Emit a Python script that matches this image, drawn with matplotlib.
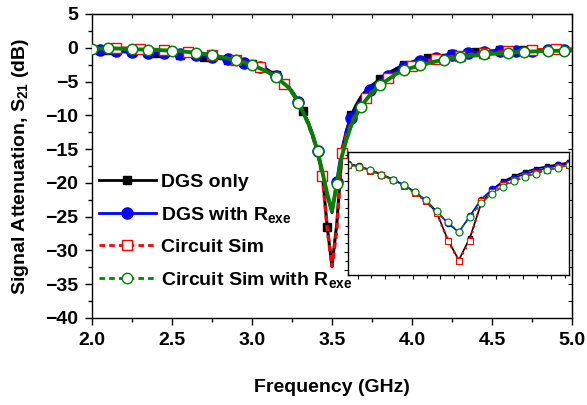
import numpy as np
import matplotlib
matplotlib.use('Agg')
import matplotlib.pyplot as plt
from matplotlib.lines import Line2D
from matplotlib.ticker import MultipleLocator

plt.rcParams['font.family'] = 'Liberation Sans'
plt.rcParams['font.weight'] = 'bold'
plt.rcParams['mathtext.fontset'] = 'custom'
plt.rcParams['mathtext.rm'] = 'Liberation Sans:bold'
plt.rcParams['mathtext.bf'] = 'Liberation Sans:bold'
plt.rcParams['mathtext.default'] = 'rm'

# frequency sweep (GHz), finer around the notch
freq = [2.00, 2.05, 2.10, 2.15, 2.20, 2.25, 2.30, 2.35, 2.40, 2.45,
        2.50, 2.55, 2.60, 2.65, 2.70, 2.75, 2.80, 2.85, 2.90, 2.95,
        3.00, 3.05, 3.10, 3.15, 3.20,
        3.23, 3.26, 3.29, 3.32, 3.35, 3.38, 3.41, 3.44, 3.47, 3.50,
        3.53, 3.56, 3.59, 3.62, 3.65, 3.68, 3.71, 3.74, 3.77,
        3.80, 3.85, 3.90, 3.95, 4.00, 4.05, 4.10, 4.15, 4.20, 4.25,
        4.30, 4.35, 4.40, 4.45, 4.50, 4.55, 4.60, 4.65, 4.70, 4.75,
        4.80, 4.85, 4.90, 4.95, 5.00]

# S21 (dB)
dgs_only = [-0.30, -0.35, -0.40, -0.45, -0.55, -0.60, -0.66, -0.72, -0.78, -0.85,
            -0.95, -1.10, -1.20, -1.28, -1.35, -1.45, -1.60, -1.75, -1.95, -2.15,
            -2.35, -2.60, -3.30, -4.10, -5.00,
            -5.8, -6.8, -8.0, -9.4, -11.0, -13.0, -15.5, -18.8, -26.5, -32.3,
            -26.0, -16.5, -12.3, -10.0, -8.5, -7.3, -6.4, -5.7, -5.2,
            -4.6, -3.8, -3.1, -2.55, -2.1, -1.75, -1.45, -1.25, -1.1, -0.98,
            -0.85, -0.7, -0.6, -0.52, -0.45, -0.4, -0.36, -0.32, -0.3, -0.3,
            -0.3, -0.3, -0.3, -0.3, -0.3]

dgs_rexe = [-0.30, -0.40, -0.50, -0.55, -0.60, -0.65, -0.68, -0.72, -0.77, -0.83,
            -0.90, -0.97, -1.00, -1.06, -1.20, -1.35, -1.50, -1.70, -1.95, -2.20,
            -2.50, -2.90, -3.50, -4.20, -5.10,
            -5.8, -6.8, -8.1, -9.5, -11.0, -12.9, -15.3, -18.5, -21.8, -24.4,
            -19.8, -15.2, -12.3, -10.4, -9.0, -7.9, -7.0, -6.2, -5.5,
            -4.9, -4.2, -3.5, -2.9, -2.4, -2.0, -1.7, -1.45, -1.2, -1.05,
            -0.92, -0.8, -0.7, -0.63, -0.57, -0.52, -0.48, -0.45, -0.43, -0.42,
            -0.41, -0.4, -0.4, -0.4, -0.4]

circuit_sim = [-0.10, -0.05, -0.05, -0.05, -0.06, -0.08, -0.12, -0.18, -0.26, -0.35,
               -0.43, -0.52, -0.62, -0.75, -0.92, -1.12, -1.33, -1.55, -1.80, -2.10,
               -2.45, -2.90, -3.50, -4.30, -5.30,
               -6.0, -7.0, -8.2, -9.6, -11.2, -13.2, -15.6, -19.0, -26.8, -32.4,
               -27.0, -15.6, -12.9, -11.1, -9.7, -8.5, -7.5, -6.7, -6.0,
               -5.4, -4.5, -3.8, -3.2, -2.7, -2.3, -1.95, -1.7, -1.48, -1.3,
               -1.15, -1.02, -0.9, -0.8, -0.7, -0.62, -0.55, -0.47, -0.40, -0.35,
               -0.30, -0.26, -0.22, -0.20, -0.18]

sim_rexe = [-0.15, -0.10, -0.06, -0.10, -0.15, -0.20, -0.25, -0.28, -0.32, -0.38,
            -0.44, -0.52, -0.62, -0.74, -0.90, -1.10, -1.33, -1.58, -1.87, -2.20,
            -2.60, -3.05, -3.60, -4.35, -5.30,
            -5.9, -6.9, -8.2, -9.6, -11.1, -13.0, -15.3, -18.4, -21.6, -24.2,
            -20.2, -16.2, -13.6, -11.5, -10.0, -8.8, -7.8, -6.9, -6.2,
            -5.5, -4.7, -3.9, -3.3, -2.95, -2.62, -2.3, -2.0, -1.75, -1.55,
            -1.38, -1.22, -1.10, -0.99, -0.90, -0.81, -0.74, -0.67, -0.60, -0.55,
            -0.51, -0.48, -0.45, -0.42, -0.40]

labels = ['DGS only', r'DGS with R$_{exe}$', 'Circuit Sim', r'Circuit Sim with R$_{exe}$']

# which samples carry a symbol on the main plot
mk_black = [2, 5, 8, 11, 14, 17, 20, 23, 28, 33, 38, 44, 47, 50, 53, 56, 59, 62, 65]
mk_blue = [1, 3, 5, 7, 9, 11, 13, 15, 17, 19, 21, 23, 27, 31, 35, 38, 42,
           45, 47, 49, 51, 53, 55, 57, 59, 61, 63, 65, 67]
mk_red = [3, 6, 9, 12, 15, 18, 21, 24, 32, 36, 41, 45, 48, 51, 54, 57, 60, 63, 66]
mk_green = [0, 2, 5, 7, 10, 13, 15, 18, 20, 23, 27, 31, 35, 40,
            44, 47, 49, 52, 54, 57, 60, 62, 65, 67]

fig = plt.figure(figsize=(5.87, 4.05), dpi=100)
ax = fig.add_axes([92 / 587, 1 - 318 / 405, 480 / 587, 304 / 405])

ax.plot(freq, dgs_only, '-', color='black', lw=2.2, marker='s', ms=6,
        markevery=mk_black, zorder=2)
ax.plot(freq, dgs_rexe, '-', color='blue', lw=2.2, marker='o', ms=8,
        markevery=mk_blue, zorder=3)
ax.plot(freq, circuit_sim, '--', color='red', lw=2.4, dashes=(1.8, 1.2),
        marker='s', ms=6.5, mfc='white', mec='red', mew=1.0,
        markevery=mk_red, zorder=4)
ax.plot(freq, sim_rexe, '-', color='green', lw=2.8, marker='o', ms=7.5,
        mfc='white', mec='green', mew=1.1, markevery=mk_green, zorder=5)

ax.set_xlim(2.0, 5.0)
ax.set_ylim(-40, 5)
ax.xaxis.set_major_locator(MultipleLocator(0.5))
ax.xaxis.set_minor_locator(MultipleLocator(0.25))
ax.yaxis.set_major_locator(MultipleLocator(5))
ax.yaxis.set_minor_locator(MultipleLocator(2.5))
ax.xaxis.set_major_formatter(lambda v, p: f'{v:.1f}')
ax.tick_params(which='major', direction='out', length=5, width=1.0,
               labelsize=14, pad=5)
ax.tick_params(which='minor', direction='out', length=3, width=1.0)
for s in ax.spines.values():
    s.set_linewidth(1.0)

# inward ticks along top and right
top = ax.secondary_xaxis('top')
top.xaxis.set_major_locator(MultipleLocator(0.25))
top.tick_params(direction='in', length=3, width=0.8, labeltop=False)
right = ax.secondary_yaxis('right')
right.yaxis.set_major_locator(MultipleLocator(2.5))
right.tick_params(direction='in', length=3, width=0.8, labelright=False)

ax.set_xlabel('Frequency (GHz)', fontsize=14, fontweight='bold', labelpad=22)
ax.set_ylabel(r'Signal Attenuation, S$_{21}$ (dB)', fontsize=14,
              fontweight='bold')
ax.yaxis.set_label_coords(-0.128, 0.5)

handles = [
    Line2D([], [], color='black', lw=2, marker='s', ms=6),
    Line2D([], [], color='blue', lw=2, marker='o', ms=8),
    Line2D([], [], color='red', lw=2, ls='--', dashes=(2, 1.5), marker='s',
           ms=6.5, mfc='white', mec='red', mew=1.0),
    Line2D([], [], color='green', lw=2, ls='--', dashes=(2, 1.5), marker='o',
           ms=7.5, mfc='white', mec='green', mew=1.0),
]
ax.legend(handles, labels, loc='upper left', bbox_to_anchor=(0.015, 0.475),
          frameon=False, fontsize=14, handlelength=2.9, handletextpad=0.3,
          labelspacing=0.7, borderpad=0, borderaxespad=0)

# zoomed view of the notch
ins = fig.add_axes([348.3 / 587, 1 - 275 / 405, 221 / 587, 123 / 405])
ins.set_facecolor('white')
ins.plot(freq, dgs_only, '-', color='black', lw=1.2, marker='s', ms=3.5)
ins.plot(freq, dgs_rexe, '-', color='blue', lw=1.2, marker='o', ms=4.5)
ins.plot(freq, circuit_sim, ':', color='red', lw=1.6, marker='s', ms=4,
         mfc='white', mec='red', mew=0.8)
ins.plot(freq, sim_rexe, '--', color='green', lw=1.0, marker='o', ms=5,
         mfc='white', mec='green', mew=0.8)
ins.set_xlim(3.2, 3.8)
ins.set_ylim(-36.5, -1.7)
ins.xaxis.set_major_locator(MultipleLocator(0.075))
ins.xaxis.set_minor_locator(MultipleLocator(0.0375))
ins.yaxis.set_major_locator(MultipleLocator(5))
ins.yaxis.set_minor_locator(MultipleLocator(2.5))
ins.tick_params(which='both', direction='out', width=0.8,
                labelleft=False, labelbottom=False)
ins.tick_params(which='major', length=3)
ins.tick_params(which='minor', length=2)
for s in ins.spines.values():
    s.set_linewidth(1.0)

fig.savefig('out.png', dpi=100)
